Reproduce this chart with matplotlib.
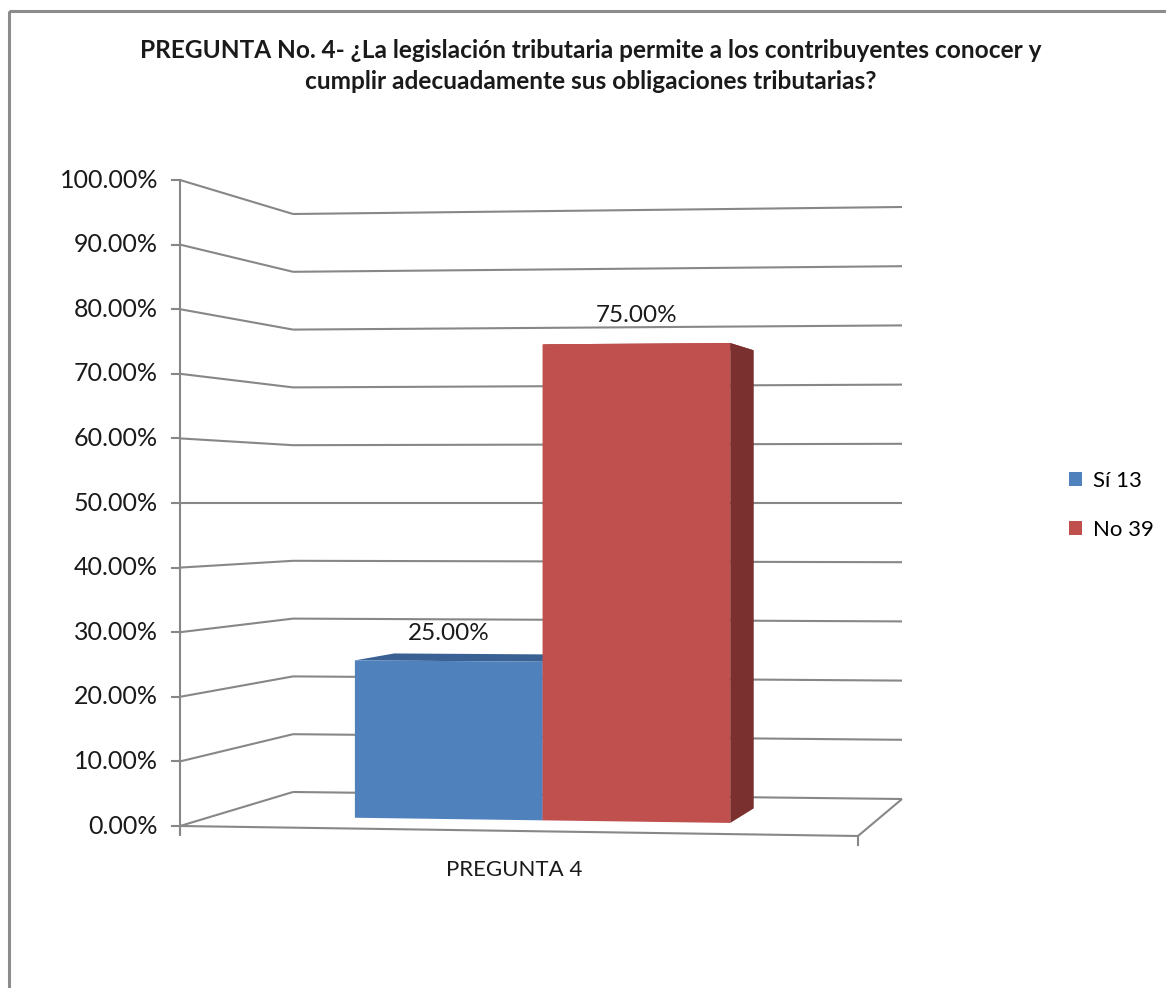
"""
PREGUNTA 4 - 3D clustered column chart (Excel-like look)
"""
import matplotlib.pyplot as plt
from matplotlib.patches import Polygon, Rectangle, Patch

plt.rcParams["font.family"] = ["Lato", "DejaVu Sans"]

# Data
title = ("PREGUNTA No. 4- ¿La legislación tributaria permite a los contribuyentes conocer y\n"
         "cumplir adecuadamente sus obligaciones tributarias?")
category = "PREGUNTA 4"
series = ["Sí 13", "No 39"]
values = [25.0, 75.0]
colors = ["#4F81BD", "#C0504D"]
side_colors = ["#35598A", "#7A302E"]
top_colors = ["#3A6194", "#A8403D"]
yticks = list(range(0, 101, 10))

# Box corners of the 3D walls, in pixels (front plane and back plane)
FRONT = {"bl": (180, 826), "br": (858, 836), "tl": (180, 180), "tr": (858, 170)}
BACK = {"bl": (293, 792), "br": (902, 799), "tl": (293, 214), "tr": (902, 207)}
VMAX = 100.0
BAR_D = (0.3, 0.7)     # depth of the bar row
GROUP_W = 0.571        # share of the category slot taken by the bars
GRID = "#878787"


def plane(c, u, v):
    t = v / VMAX
    pts = [(c["bl"], (1 - u) * (1 - t)), (c["br"], u * (1 - t)),
           (c["tl"], (1 - u) * t), (c["tr"], u * t)]
    return (sum(p[0] * w for p, w in pts), sum(p[1] * w for p, w in pts))


def proj(u, d, v):
    fx, fy = plane(FRONT, u, v)
    bx, by = plane(BACK, u, v)
    return ((1 - d) * fx + d * bx, (1 - d) * fy + d * by)


def line(ax, a, b, **kw):
    ax.plot([a[0], b[0]], [a[1], b[1]], color=GRID, lw=1.5,
            solid_capstyle="butt", zorder=1, **kw)


fig = plt.figure(figsize=(11.66, 9.88), dpi=100)
ax = fig.add_axes([0, 0, 1, 1])
ax.set_xlim(0, 1166)
ax.set_ylim(988, 0)
ax.axis("off")

# chart frame (runs past the right and bottom edges)
ax.add_patch(Rectangle((9, 11), 1200, 1200, fill=False, ec="#8C8C8C", lw=2.2))

# walls gridlines
for v in yticks:
    line(ax, proj(0, 1, v), proj(1, 1, v))
    line(ax, proj(0, 0, v), proj(0, 1, v))
# floor
line(ax, proj(0, 0, 0), proj(1, 0, 0))
line(ax, proj(1, 0, 0), proj(1, 1, 0))

# value axis
top = proj(0, 0, VMAX)
bot = proj(0, 0, 0)
ax.plot([top[0], bot[0]], [top[1], bot[1] + 7], color=GRID, lw=1.5, zorder=1)
for v in yticks:
    x, y = proj(0, 0, v)
    ax.plot([x - 8, x], [y, y], color=GRID, lw=1.5, zorder=1)
    ax.text(x - 22, y, f"{v:.2f}%", ha="right", va="center", fontsize=18,
            color="#1a1a1a")

# category axis ticks and label
for u in (0, 1):
    x, y = proj(u, 0, 0)
    ax.plot([x, x], [y, y + 9], color=GRID, lw=1.5, zorder=1)
cx, cy = proj(0.5, 0, 0)
ax.text(cx - 5, cy + 39, category, ha="center", va="center", fontsize=16,
        color="#1a1a1a")

# bars
bw = GROUP_W / len(values)
d0, d1 = BAR_D
for i, (val, c) in enumerate(zip(values, colors)):
    u0 = 0.5 - GROUP_W / 2 + i * bw
    u1 = u0 + bw
    top_face = [proj(u0, d0, val), proj(u1, d0, val), proj(u1, d1, val), proj(u0, d1, val)]
    side_face = [proj(u1, d0, 0), proj(u1, d1, 0), proj(u1, d1, val), proj(u1, d0, val)]
    front_face = [proj(u0, d0, 0), proj(u1, d0, 0), proj(u1, d0, val), proj(u0, d0, val)]
    ax.add_patch(Polygon(top_face, closed=True, fc=top_colors[i], ec="none", zorder=3))
    ax.add_patch(Polygon(side_face, closed=True, fc=side_colors[i], ec="none", zorder=3))
    ax.add_patch(Polygon(front_face, closed=True, fc=c, ec="none", zorder=3))
    lx, ly = proj((u0 + u1) / 2, d0, val)
    ax.annotate(f"{val:.2f}%", (lx, ly), xytext=(0, 20), textcoords="offset points",
                ha="center", va="center", fontsize=17.5, color="#1a1a1a", zorder=4)

# title
fig.text(0.507, 1 - 66 / 988, title, ha="center", va="center", fontsize=17.6,
         fontweight="bold", linespacing=1.45, color="#1a1a1a")

# legend
handles = [Patch(fc=c, ec="none") for c in colors]
ax.legend(handles, series, loc="upper left", bbox_to_anchor=(1060 / 1166, 1 - 462 / 988),
          bbox_transform=fig.transFigure, frameon=False, fontsize=16,
          handlelength=0.6, handleheight=0.6, handletextpad=0.5,
          labelspacing=1.3, borderaxespad=0)

plt.savefig("out.png", dpi=100)
